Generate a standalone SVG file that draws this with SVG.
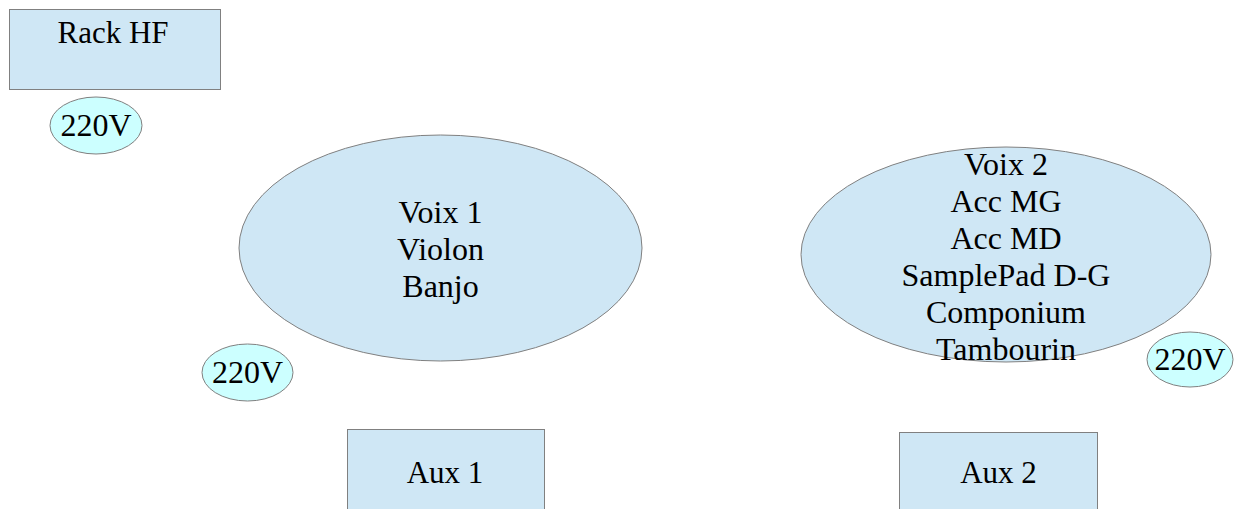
<svg xmlns="http://www.w3.org/2000/svg" width="1234" height="509" viewBox="0 0 1234 509">
<style>
.box{fill:#cfe7f5;stroke:#808080;stroke-width:1}
.pw{fill:#ccffff;stroke:#808080;stroke-width:1}
text{font-family:"Liberation Serif","Times New Roman",serif;font-size:32px;fill:#000;text-anchor:middle}
</style>
<rect width="1234" height="509" fill="#ffffff"/>
<g id="connectors"></g>
<g id="rack-hf">
<rect class="box" x="9.5" y="9.5" width="211" height="80"/>
<text x="113" y="43" style="font-size:31px">Rack HF</text>
</g>
<g id="pw1">
<ellipse class="pw" cx="96" cy="125.5" rx="46" ry="28.5"/>
<text x="96" y="136">220V</text>
</g>
<g id="voix1">
<ellipse class="box" cx="440.5" cy="248" rx="201.5" ry="113"/>
<text x="440.5" y="223.4">Voix 1</text>
<text x="440.5" y="260">Violon</text>
<text x="440.5" y="296.6">Banjo</text>
</g>
<g id="pw2">
<ellipse class="pw" cx="247.5" cy="372.5" rx="45.5" ry="28.5"/>
<text x="247.5" y="383">220V</text>
</g>
<g id="voix2">
<ellipse class="box" cx="1006" cy="254.5" rx="205" ry="107.5"/>
<text x="1006" y="174.5">Voix 2</text>
<text x="1006" y="211.5">Acc MG</text>
<text x="1006" y="248.5">Acc MD</text>
<text x="1006" y="285.5">SamplePad D-G</text>
<text x="1006" y="322.5">Componium</text>
<text x="1006" y="359.5">Tambourin</text>
</g>
<g id="pw3">
<ellipse class="pw" cx="1190" cy="359.5" rx="43" ry="27.5"/>
<text x="1190" y="370">220V</text>
</g>
<g id="aux1">
<rect class="box" x="347.5" y="429.5" width="197" height="90"/>
<text x="445" y="483" style="font-size:31px">Aux 1</text>
</g>
<g id="aux2">
<rect class="box" x="899.5" y="432.5" width="198" height="90"/>
<text x="998.5" y="483" style="font-size:31px">Aux 2</text>
</g>
</svg>
